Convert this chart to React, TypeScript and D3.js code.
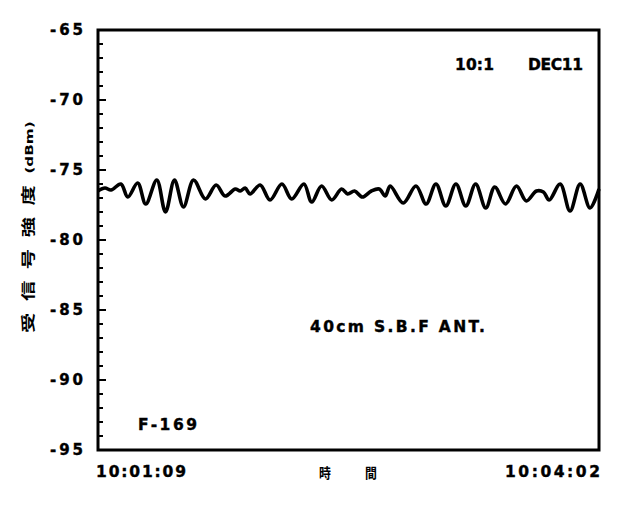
import React, { useEffect, useRef } from "react";
import * as d3 from "d3";

// elapsed seconds from 10:01:09
const times = [
  0, 2.4, 4.5, 7.9, 10.3, 13.7, 16.5, 20.3, 23.3, 26.4, 29.5, 33.0, 37.1, 40.8,
  43.9, 47.4, 49.1, 50.8, 52.5, 56.0, 59.4, 63.5, 66.9, 71.1, 73.8, 77.2, 80.7,
  84.1, 86.2, 88.6, 91.3, 94.4, 97.1, 99.2, 100.9, 105.4, 109.8, 113.3, 116.7,
  120.1, 123.6, 127.0, 130.4, 133.9, 137.0, 140.7, 144.5, 147.9, 151.4, 153.8,
  155.8, 159.6, 163.0, 166.5, 169.9, 173,
];
// received level (dBm)
const signal = [
  -76.5, -76.29, -76.43, -76.0, -76.93, -75.93, -77.43, -75.71, -78.0, -75.71,
  -77.64, -75.71, -77.07, -76.07, -76.86, -76.36, -76.5, -76.29, -76.71, -76.07,
  -77.14, -76.0, -77.07, -76.0, -77.29, -76.14, -77.14, -76.36, -76.71, -76.5,
  -76.93, -76.5, -76.36, -76.86, -76.14, -77.36, -76.14, -77.43, -76.0, -77.57,
  -76.0, -77.57, -76.0, -77.71, -76.21, -77.43, -76.14, -77.21, -76.5, -76.57,
  -77.14, -76.0, -77.93, -76.0, -77.71, -76.36,
];

const yMajor = [-65, -70, -75, -80, -85, -90, -95];
const yMinor = d3.range(-95, -64, 1);
const timeLabels = ["10:01:09", "10:04:02"];
const yTitleChars = "受信号強度";

const sans = "'DejaVu Sans', sans-serif";

const App = () => {
  const svgRef = useRef<SVGSVGElement>(null);

  useEffect(() => {
    const width = 630;
    const height = 512;
    const m = { top: 30, right: 31, bottom: 62, left: 98 };

    const svg = d3.select(svgRef.current);
    svg.selectAll("*").remove();
    svg.attr("width", width).attr("height", height);

    svg.append("rect").attr("width", width).attr("height", height).attr("fill", "#fff");

    const x = d3.scaleLinear().domain([0, 173]).range([m.left, width - m.right]);
    const y = d3.scaleLinear().domain([-95, -65]).range([height - m.bottom, m.top]);

    // ticks on left axis, pointing inward
    svg.append("g")
      .selectAll("line")
      .data(yMinor)
      .enter()
      .append("line")
      .attr("x1", m.left)
      .attr("x2", (d) => m.left + (d % 5 === 0 ? 8 : 5))
      .attr("y1", (d) => y(d))
      .attr("y2", (d) => y(d))
      .attr("stroke", "#000")
      .attr("stroke-width", 2);

    // tick labels
    svg.append("g")
      .selectAll("text")
      .data(yMajor)
      .enter()
      .append("text")
      .attr("x", 50)
      .attr("y", (d) => y(d))
      .attr("dy", "0.36em")
      .attr("font-family", sans)
      .attr("font-weight", "bold")
      .attr("font-size", 15)
      .attr("textLength", 33)
      .attr("lengthAdjust", "spacing")
      .attr("stroke", "#000")
      .attr("stroke-width", 0.4)
      .text((d) => d);

    // signal trace
    const line = d3
      .line<number>()
      .x((_, i) => x(times[i]))
      .y((d) => y(d))
      .curve(d3.curveCatmullRom.alpha(0.5));

    svg.append("path")
      .datum(signal)
      .attr("d", line)
      .attr("fill", "none")
      .attr("stroke", "#000")
      .attr("stroke-width", 3.6)
      .attr("stroke-linejoin", "round");

    // frame
    svg.append("rect")
      .attr("x", m.left)
      .attr("y", m.top)
      .attr("width", width - m.right - m.left)
      .attr("height", height - m.bottom - m.top)
      .attr("fill", "none")
      .attr("stroke", "#000")
      .attr("stroke-width", 3);

    const label = (tx: number, ty: number, s: string, len: number) =>
      svg.append("text")
        .attr("x", tx)
        .attr("y", ty)
        .attr("font-family", sans)
        .attr("font-weight", "bold")
        .attr("font-size", 15.5)
        .attr("textLength", len)
        .attr("lengthAdjust", "spacing")
        .attr("stroke", "#000")
        .attr("stroke-width", 0.4)
        .text(s);

    label(96, 477, timeLabels[0], 90);
    label(505, 477, timeLabels[1], 95);
    label(455, 70, "10:1", 39);
    label(528, 70, "DEC11", 55);
    label(310, 332, "40cm S.B.F ANT.", 175);
    label(138, 430, "F-169", 59);

    // x title
    const cjk = "'Noto Sans CJK JP', sans-serif";
    [["時", 325], ["間", 371]].forEach(([c, cx]) => {
      svg.append("text")
        .attr("transform", `translate(${cx},478) scale(0.85,1)`)
        .attr("text-anchor", "middle")
        .attr("font-family", cjk)
        .attr("font-weight", "bold")
        .attr("font-size", 14)
        .text(c as string);
    });

    // y title, rotated
    const yt = svg.append("text")
      .attr("transform", "translate(33,333) rotate(-90) scale(1.45,1)")
      .attr("font-weight", "bold");
    yt.append("tspan")
      .attr("font-family", cjk)
      .attr("font-size", 14)
      .attr("letter-spacing", 8)
      .text(yTitleChars);
    yt.append("tspan")
      .attr("font-family", sans)
      .attr("font-size", 10.5)
      .text("(dBm)");
  }, []);

  return (
    <svg ref={svgRef} style={{ position: "absolute", left: 0, top: 0 }}></svg>
  );
};

export default App;
